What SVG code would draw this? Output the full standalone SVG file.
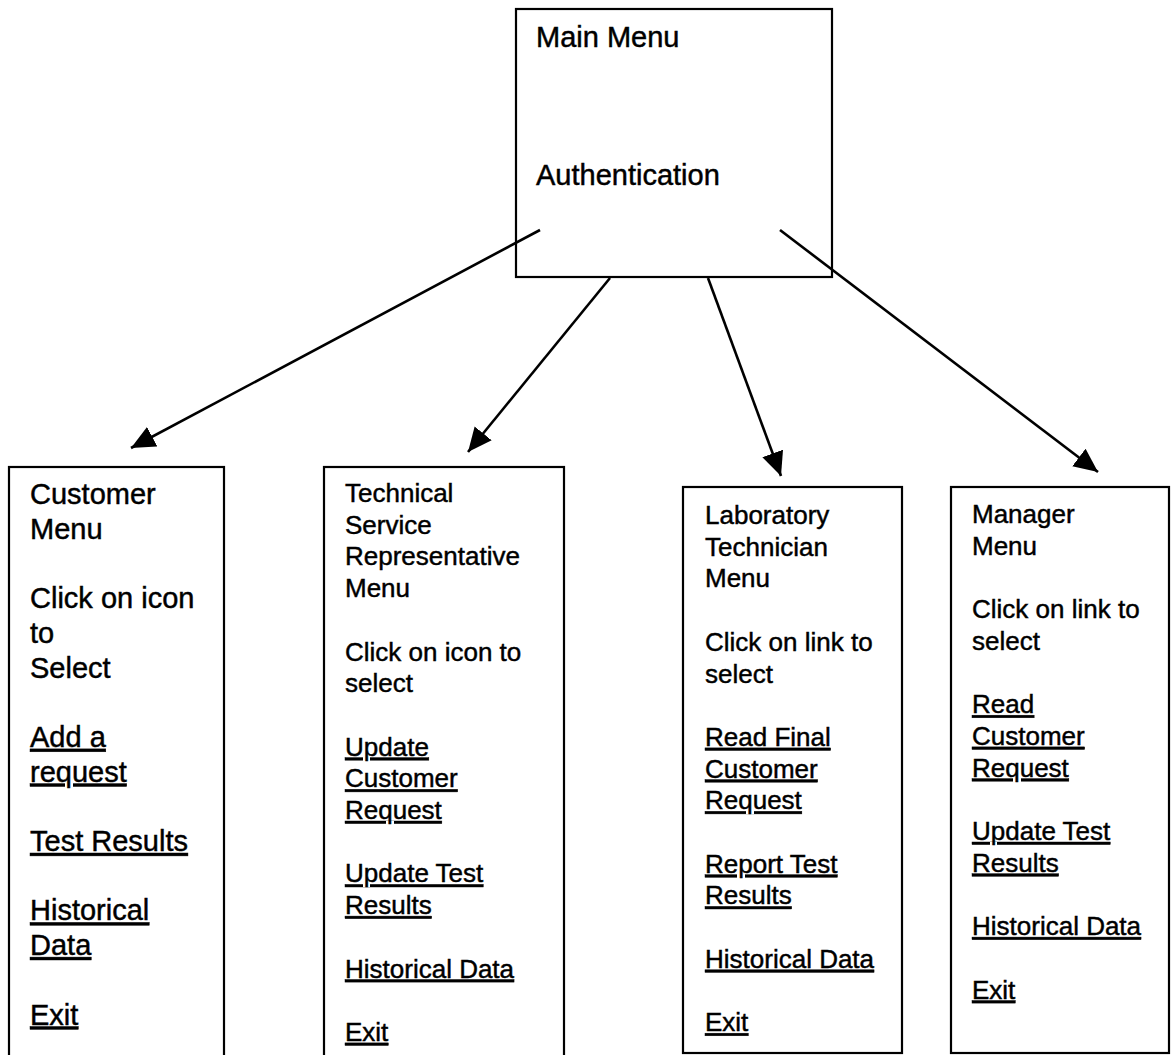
<svg xmlns="http://www.w3.org/2000/svg" width="1173" height="1055" viewBox="0 0 1173 1055">
<defs>
<style>
.box{fill:#fff;stroke:#000;stroke-width:2.2}
.t{font-family:"Liberation Sans",Arial,sans-serif;fill:#000;stroke:#000;stroke-width:0.45}
.m{font-size:29px}
.c{font-size:29px}
.s{font-size:26px}
.u{text-decoration:underline}
.edge{stroke:#000;stroke-width:2.6;fill:none;marker-end:url(#ah)}
</style>
<marker id="ah" markerUnits="userSpaceOnUse" markerWidth="26" markerHeight="24" refX="24" refY="11" orient="auto">
<path d="M0,0 L24,11 L0,22 z" fill="#000"/>
</marker>
</defs>
<rect width="1173" height="1055" fill="#fff"/>
<g id="main">
<rect class="box" x="516" y="9" width="316" height="268"/>
<text class="t m" x="536" y="47">Main Menu</text>
<text class="t m" x="536" y="185">Authentication</text>
</g>
<g id="connectors">
<line class="edge" x1="540" y1="230" x2="131" y2="448"/>
<line class="edge" x1="610" y1="278" x2="468" y2="452"/>
<line class="edge" x1="708" y1="278" x2="781" y2="476"/>
<line class="edge" x1="780" y1="230" x2="1098" y2="472"/>
</g>
<g id="customer">
<rect class="box" x="9" y="467" width="215" height="600"/>
<text class="t c" x="30" y="504">Customer</text>
<text class="t c" x="30" y="538.7">Menu</text>
<text class="t c" x="30" y="608.1">Click on icon</text>
<text class="t c" x="30" y="642.8">to</text>
<text class="t c" x="30" y="677.5">Select</text>
<text class="t c u" x="30" y="746.9">Add a</text>
<text class="t c u" x="30" y="781.6">request</text>
<text class="t c u" x="30" y="851">Test Results</text>
<text class="t c u" x="30" y="920.4">Historical</text>
<text class="t c u" x="30" y="955.1">Data</text>
<text class="t c u" x="30" y="1024.5">Exit</text>
</g>
<g id="technical">
<rect class="box" x="324" y="467" width="240" height="600"/>
<text class="t s" x="345" y="502">Technical</text>
<text class="t s" x="345" y="533.7">Service</text>
<text class="t s" x="345" y="565.4">Representative</text>
<text class="t s" x="345" y="597.1">Menu</text>
<text class="t s" x="345" y="660.5">Click on icon to</text>
<text class="t s" x="345" y="692.2">select</text>
<text class="t s u" x="345" y="755.6">Update</text>
<text class="t s u" x="345" y="787.3">Customer</text>
<text class="t s u" x="345" y="819">Request</text>
<text class="t s u" x="345" y="882.4">Update Test</text>
<text class="t s u" x="345" y="914.1">Results</text>
<text class="t s u" x="345" y="977.5">Historical Data</text>
<text class="t s u" x="345" y="1040.9">Exit</text>
</g>
<g id="laboratory">
<rect class="box" x="683" y="487" width="219" height="566"/>
<text class="t s" x="705" y="524">Laboratory</text>
<text class="t s" x="705" y="555.7">Technician</text>
<text class="t s" x="705" y="587.4">Menu</text>
<text class="t s" x="705" y="650.8">Click on link to</text>
<text class="t s" x="705" y="682.5">select</text>
<text class="t s u" x="705" y="745.9">Read Final</text>
<text class="t s u" x="705" y="777.6">Customer</text>
<text class="t s u" x="705" y="809.3">Request</text>
<text class="t s u" x="705" y="872.7">Report Test</text>
<text class="t s u" x="705" y="904.4">Results</text>
<text class="t s u" x="705" y="967.8">Historical Data</text>
<text class="t s u" x="705" y="1031.2">Exit</text>
</g>
<g id="manager">
<rect class="box" x="951" y="487" width="218" height="566"/>
<text class="t s" x="972" y="523">Manager</text>
<text class="t s" x="972" y="554.7">Menu</text>
<text class="t s" x="972" y="618.1">Click on link to</text>
<text class="t s" x="972" y="649.8">select</text>
<text class="t s u" x="972" y="713.2">Read</text>
<text class="t s u" x="972" y="744.9">Customer</text>
<text class="t s u" x="972" y="776.6">Request</text>
<text class="t s u" x="972" y="840">Update Test</text>
<text class="t s u" x="972" y="871.7">Results</text>
<text class="t s u" x="972" y="935.1">Historical Data</text>
<text class="t s u" x="972" y="998.5">Exit</text>
</g>
</svg>
